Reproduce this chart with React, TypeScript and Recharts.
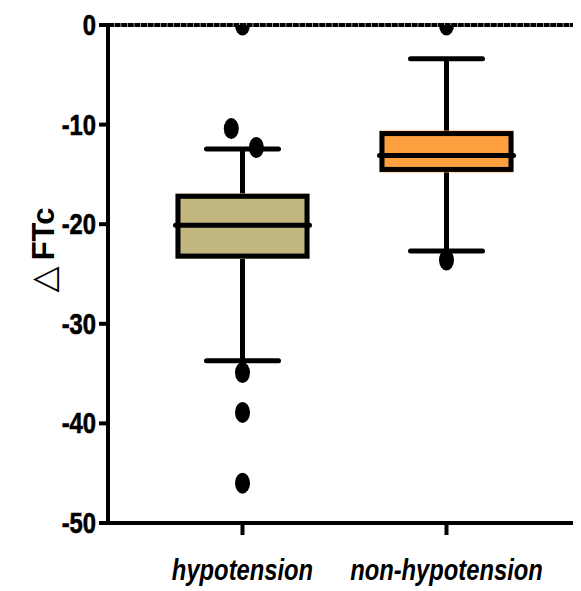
import React from 'react';
import { ComposedChart, Bar, Scatter, XAxis, YAxis, ReferenceLine } from 'recharts';

const CATEGORIES = ['hypotension', 'non-hypotension'];
const WHISKER_LOW = [-33.7, -22.7];
const Q1 = [-23.2, -14.5];
const MEDIAN = [-20.1, -13.1];
const Q3 = [-17.2, -10.9];
const WHISKER_HIGH = [-12.45, -3.4];
const BOX_COLORS = ['#C2B77E', '#FFA040'];

// outliers: group index, value, small horizontal jitter
const OUTLIER_GROUP = [0, 0, 0, 0, 0, 0, 1, 1];
const OUTLIER_VALUES = [0, -10.4, -12.3, -34.9, -38.9, -46.0, 0, -23.6];
const OUTLIER_JITTER = [0, -0.055, 0.068, 0, 0, 0, 0, 0];

const Y_TICKS = [0, -10, -20, -30, -40, -50];

const data = CATEGORIES.map((name, i) => ({
  name,
  range: [WHISKER_LOW[i], WHISKER_HIGH[i]],
  lo: WHISKER_LOW[i],
  q1: Q1[i],
  med: MEDIAN[i],
  q3: Q3[i],
  hi: WHISKER_HIGH[i],
  color: BOX_COLORS[i],
}));

const outliers = OUTLIER_VALUES.map((v, i) => ({
  x: OUTLIER_GROUP[i] + 0.5 + OUTLIER_JITTER[i],
  v,
}));

const FONT = "'Liberation Sans', Arial, sans-serif";
const NARROW = 0.82;

const BoxShape = (props: any) => {
  const { x, y, width, height, payload } = props;
  const top = Math.min(y, y + height);
  const bottom = Math.max(y, y + height);
  const { lo, hi } = payload;
  const px = (v: number) => top + ((hi - v) / (hi - lo)) * (bottom - top);
  const cx = x + width / 2;
  const capHalf = 36;
  const sw = 5;
  return (
    <g>
      <line x1={cx} x2={cx} y1={px(hi)} y2={px(payload.q3)} stroke="#000" strokeWidth={sw} />
      <line x1={cx} x2={cx} y1={px(payload.q1)} y2={px(lo)} stroke="#000" strokeWidth={sw} />
      <line x1={cx - capHalf} x2={cx + capHalf} y1={px(hi)} y2={px(hi)} stroke="#000" strokeWidth={sw} strokeLinecap="round" />
      <line x1={cx - capHalf} x2={cx + capHalf} y1={px(lo)} y2={px(lo)} stroke="#000" strokeWidth={sw} strokeLinecap="round" />
      <rect x={x} y={px(payload.q3) - 3} width={width} height={px(payload.q1) - px(payload.q3) + 6} fill={payload.color} />
      <rect x={x + 2.5} y={px(payload.q3)} width={width - 5} height={px(payload.q1) - px(payload.q3)} fill="none" stroke="#000" strokeWidth={sw} />
      <line x1={x} x2={x + width} y1={px(payload.med)} y2={px(payload.med)} stroke="#000" strokeWidth={sw} strokeLinecap="round" />
    </g>
  );
};

const Dot = (props: any) => {
  const { cx, cy } = props;
  return <ellipse cx={cx} cy={cy} rx={7.5} ry={10.5} fill="#000" />;
};

const XTick = (props: any) => {
  const { x, y, payload } = props;
  return (
    <g transform={`translate(${x},${y + 43}) scale(${NARROW},1)`}>
      <text textAnchor="middle" fill="#000" fontFamily={FONT} fontSize={29} fontWeight="bold" fontStyle="italic">
        {payload.value}
      </text>
    </g>
  );
};

const YTick = (props: any) => {
  const { x, y, payload } = props;
  return (
    <g transform={`translate(${x - 1},${y + 10}) scale(${NARROW},1)`}>
      <text textAnchor="end" fill="#000" fontFamily={FONT} fontSize={29} fontWeight="bold" stroke="#000" strokeWidth={0.6}>
        {payload.value}
      </text>
    </g>
  );
};

const YLabel = (props: any) => {
  const { viewBox } = props;
  const cx = 35;
  const cy = viewBox.y + viewBox.height / 2 - 24;
  return (
    <text
      x={cx}
      y={cy}
      transform={`rotate(-90, ${cx}, ${cy})`}
      textAnchor="middle"
      dominantBaseline="central"
      fill="#000"
      fontFamily={FONT}
      fontSize={31}
      fontWeight="bold"
    >
      <tspan fontWeight="normal" fontFamily="'DejaVu Sans', sans-serif" fontSize={34}>△</tspan>
      <tspan dx={6}>FTc</tspan>
    </text>
  );
};

const App: React.FC = () => {
  return (
    <ComposedChart width={573} height={583} data={data} margin={{ top: 17, right: 0, bottom: 0, left: 0 }}>
      <XAxis
        dataKey="name"
        height={68}
        padding={{ left: 32.5, right: 32.5 }}
        axisLine={{ stroke: '#000', strokeWidth: 4 }}
        tickLine={{ stroke: '#000', strokeWidth: 4 }}
        tickSize={12}
        tick={<XTick />}
      />
      <XAxis xAxisId="pts" dataKey="x" type="number" domain={[0, 2]} padding={{ left: 32.5, right: 32.5 }} hide />
      <YAxis
        width={100}
        domain={[-50, 0]}
        ticks={Y_TICKS}
        interval={0}
        axisLine={{ stroke: '#000', strokeWidth: 4 }}
        tickLine={{ stroke: '#000', strokeWidth: 4 }}
        tickSize={9}
        tick={<YTick />}
        label={<YLabel />}
      />
      <YAxis yAxisId="pts" dataKey="v" domain={[-50, 0]} allowDataOverflow hide />
      <ReferenceLine y={0} stroke="#000" strokeWidth={4} strokeDasharray="6 0.6" />
      <Bar dataKey="range" barSize={134} shape={BoxShape} isAnimationActive={false} />
      <Scatter data={outliers} xAxisId="pts" yAxisId="pts" dataKey="v" shape={Dot} isAnimationActive={false} />
    </ComposedChart>
  );
};

export default App;
